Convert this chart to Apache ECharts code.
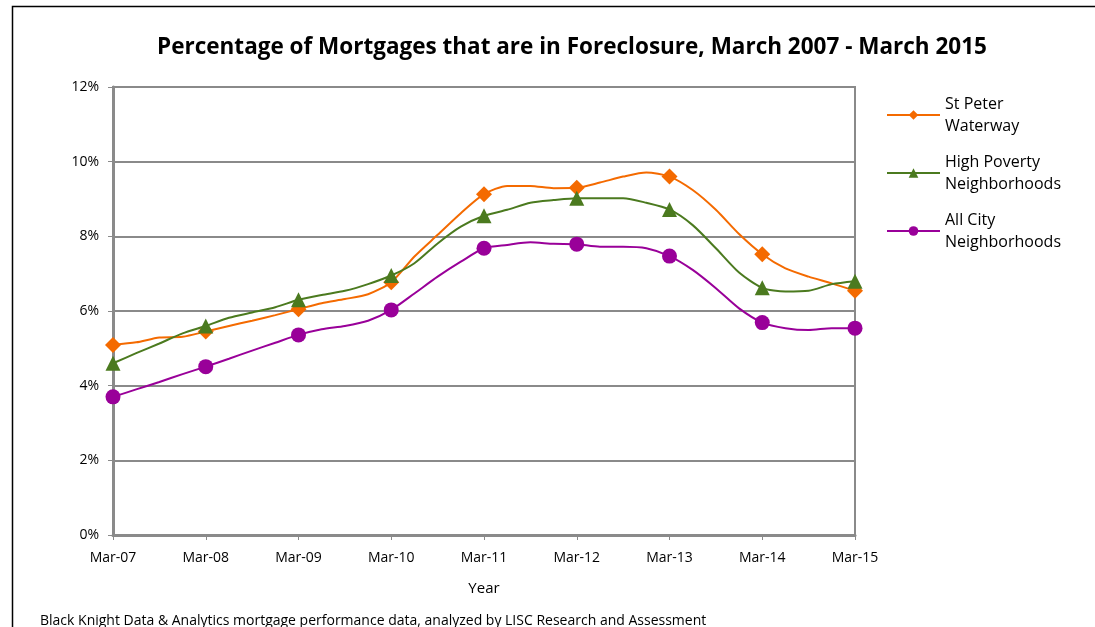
<!DOCTYPE html>
<html>
<head>
<meta charset="utf-8">
<title>Foreclosure chart</title>
<script src="https://cdn.jsdelivr.net/npm/echarts@6/dist/echarts.min.js"></script>
<style>
  html, body { margin: 0; padding: 0; background: #fff; }
  #chart { width: 1095px; height: 627px; }
</style>
</head>
<body>
<div id="chart"></div>
<script>
// quarterly categories, Mar-07 .. Mar-15
var quarters = [
  "Mar-07", "Jun-07", "Sep-07", "Dec-07",
  "Mar-08", "Jun-08", "Sep-08", "Dec-08",
  "Mar-09", "Jun-09", "Sep-09", "Dec-09",
  "Mar-10", "Jun-10", "Sep-10", "Dec-10",
  "Mar-11", "Jun-11", "Sep-11", "Dec-11",
  "Mar-12", "Jun-12", "Sep-12", "Dec-12",
  "Mar-13", "Jun-13", "Sep-13", "Dec-13",
  "Mar-14", "Jun-14", "Sep-14", "Dec-14",
  "Mar-15"
];

var stPeter = [
  5.09, 5.16, 5.29, 5.31,
  5.45, 5.60, 5.74, 5.89,
  6.05, 6.21, 6.32, 6.45,
  6.77, 7.46, 8.04, 8.62,
  9.13, 9.35, 9.35, 9.29,
  9.30, 9.44, 9.60, 9.71,
  9.60, 9.24, 8.71, 8.06,
  7.52, 7.14, 6.92, 6.74,
  6.54
];

var highPoverty = [
  4.60, 4.87, 5.13, 5.40,
  5.60, 5.82, 5.96, 6.10,
  6.30, 6.43, 6.54, 6.72,
  6.95, 7.28, 7.81, 8.26,
  8.55, 8.71, 8.90, 8.97,
  9.02, 9.02, 9.02, 8.90,
  8.72, 8.30, 7.68, 7.03,
  6.62, 6.52, 6.54, 6.72,
  6.80
];

var allCity = [
  3.70, 3.90, 4.10, 4.31,
  4.51, 4.72, 4.94, 5.15,
  5.36, 5.51, 5.60, 5.74,
  6.03, 6.47, 6.92, 7.32,
  7.68, 7.77, 7.84, 7.80,
  7.79, 7.72, 7.72, 7.68,
  7.47, 7.10, 6.61, 6.07,
  5.69, 5.54, 5.49, 5.54,
  5.54
];

var seriesNames = ["St Peter\nWaterway", "High Poverty\nNeighborhoods", "All City\nNeighborhoods"];

var font = "'Open Sans', 'DejaVu Sans', sans-serif";
var chart = echarts.init(document.getElementById("chart"));

function lineSeries(name, data, color, symbol, size) {
  return {
    name: name,
    type: "line",
    data: data,
    smooth: 0.25,
    symbol: symbol,
    // markers only on the March (yearly) points
    symbolSize: function (v, p) { return p.dataIndex % 4 === 0 ? size : 0; },
    showAllSymbol: true,
    lineStyle: { color: color, width: 2 },
    itemStyle: { color: color },
    emphasis: { disabled: true },
    animation: false
  };
}

chart.setOption({
  backgroundColor: "#fff",
  textStyle: { fontFamily: font },
  title: {
    text: "Percentage of Mortgages that are in Foreclosure, March 2007 - March 2015",
    left: 567,
    textAlign: "center",
    top: 31,
    textStyle: { fontSize: 22.5, fontWeight: "bold", color: "#000", fontFamily: font }
  },
  legend: {
    orient: "vertical",
    left: 881,
    top: 77,
    itemWidth: 53,
    itemHeight: 12,
    itemGap: -8,
    textStyle: { fontSize: 16, color: "#000", lineHeight: 22, padding: [22, 0, 0, 0], fontFamily: font },
    data: seriesNames
  },
  grid: { left: 113, right: 240, top: 87, bottom: 92, containLabel: false,
    show: true, borderColor: "#8a8a8a", borderWidth: 2 },
  xAxis: {
    type: "category",
    data: quarters,
    boundaryGap: false,
    name: "Year",
    nameLocation: "middle",
    nameGap: 46,
    nameTextStyle: { fontSize: 15, color: "#000" },
    axisLine: { lineStyle: { color: "#8a8a8a", width: 3 } },
    axisTick: { interval: 3, length: 5, lineStyle: { color: "#8a8a8a" } },
    axisLabel: { interval: 3, fontSize: 14, color: "#000", margin: 16 },
    splitLine: { show: false }
  },
  yAxis: {
    type: "value",
    min: 0,
    max: 12,
    interval: 2,
    axisLine: { show: true, lineStyle: { color: "#8a8a8a", width: 3 } },
    axisTick: { show: true, length: 5, lineStyle: { color: "#8a8a8a" } },
    axisLabel: { formatter: "{value}%", fontSize: 14, color: "#000", margin: 14 },
    splitLine: { lineStyle: { color: "#8a8a8a", width: 2 } }
  },
  graphic: [
    { type: "rect", left: 10, top: 4, shape: { width: 1200, height: 800 }, silent: true, z: -1,
      style: { fill: null, stroke: "#000", lineWidth: 1.5 } },
    { type: "text", left: 40, top: 614, silent: true,
      style: { text: "Black Knight Data & Analytics mortgage performance data, analyzed by LISC Research and Assessment",
        fontSize: 14, fill: "#000", fontFamily: font } }
  ],
  series: [
    lineSeries(seriesNames[0], stPeter, "#f46a00", "diamond", 16),
    lineSeries(seriesNames[1], highPoverty, "#4b7a1f", "triangle", 15),
    lineSeries(seriesNames[2], allCity, "#990099", "circle", 15)
  ]
});
</script>
</body>
</html>
